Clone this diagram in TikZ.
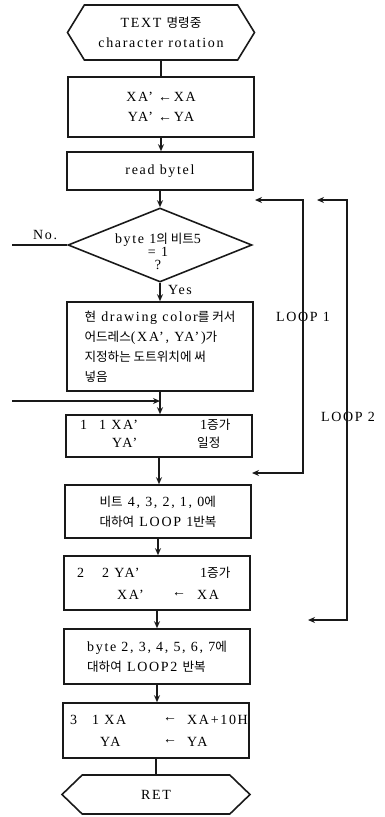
\documentclass[tikz,border=0pt]{standalone}
\usepackage{fontspec}
\setmainfont{Liberation Serif}[LetterSpace=12]
\newfontfamily\kr{Noto Sans CJK KR}[Scale=0.9]
\usepackage{tikz}
\usetikzlibrary{shapes.geometric, shapes.symbols, arrows.meta, positioning, calc}
\definecolor{ink}{RGB}{25,25,25}
\newcommand{\boxfont}{\fontsize{14}{20}\selectfont}
\tikzset{
  block/.style={rectangle, draw=ink, minimum width=186pt, inner sep=0pt,
    line width=1.6pt, font=\boxfont},
  terminal/.style={signal, signal to=west and east, draw=ink, inner sep=0pt,
    line width=1.6pt, font=\boxfont},
  decision/.style={diamond, draw=ink, minimum width=184pt, minimum height=74pt,
    inner sep=0pt, line width=1.6pt},
  txt/.style={inner sep=0pt, font=\boxfont},
  arrow/.style={-{Stealth[length=7pt,width=6pt]}, line width=1.6pt, draw=ink},
  looparrow/.style={{Stealth[length=7pt,width=6pt]}-{Stealth[length=7pt,width=6pt]},
    line width=1.6pt, draw=ink},
  line/.style={line width=1.6pt, draw=ink}
}
\begin{document}
\begin{tikzpicture}[x=1pt, y=-1pt]
  \useasboundingbox (0,0) rectangle (385,817);
  % main column
  \node[terminal, minimum width=187pt, minimum height=55pt, signal pointer angle=117,
    align=center] (start) at (161,32.5) {TEXT {\kr 명령중}\\character rotation};
  \node[block, minimum height=60pt, align=center] (init) at (161,107)
    {XA' ←XA\\YA' ←YA};
  \node[block, minimum height=38pt] (rd) at (160,171) {read bytel};
  \node[decision] (chk) at (160,245) {};
  \node[txt, align=center, font=\fontsize{14}{13}\selectfont] (chktxt) at (158,251)
    {byte 1{\kr 의 비트}5\\= 1\\?};
  \node[block, minimum height=89pt, align=left] (plot) at (160,346.5)
    {{\kr 현} drawing color{\kr 를 커서}\\{\kr 어드레스}(XA', YA'){\kr 가}\\
     {\kr 지정하는 도트위치에 써}\\{\kr 넣음}};
  \node[block, minimum height=42pt] (incx) at (159,436) {};
  \node[block, minimum height=53pt, align=left] (rep1) at (158,511.5)
    {{\kr 비트} 4, 3, 2, 1, 0{\kr 에}\\{\kr 대하여} LOOP 1{\kr 반복}};
  \node[block, minimum height=54pt] (incy) at (157,583) {};
  \node[block, minimum height=55pt, align=left] (rep2) at (157,656.5)
    {byte 2, 3, 4, 5, 6, 7{\kr 에}\\{\kr 대하여} LOOP2 {\kr 반복}};
  \node[block, minimum height=55pt] (next) at (156,730.5) {};
  \node[terminal, minimum width=188pt, minimum height=39pt, signal pointer angle=88]
    (ret) at (156,794.5) {RET};
  % texts set in columns
  \node[txt, anchor=west] (t4a) at (80,425) {1};
  \node[txt, anchor=west] (t4b) at (99,425) {1 XA'};
  \node[txt, anchor=west] (t4c) at (200,425) {1{\kr 증가}};
  \node[txt, anchor=west] (t4d) at (112,443) {YA'};
  \node[txt, anchor=west] (t4e) at (197,443) {\kr 일정};
  \node[txt, anchor=west] (t6a) at (77,573) {2};
  \node[txt, anchor=west] (t6b) at (102,573) {2 YA'};
  \node[txt, anchor=west] (t6c) at (200,573) {1{\kr 증가}};
  \node[txt, anchor=west] (t6d) at (117,595) {XA'};
  \node[txt, anchor=west] (t6e) at (172,595) {←};
  \node[txt, anchor=west] (t6f) at (197,595) {XA};
  \node[txt, anchor=west] (t8a) at (70,720) {3};
  \node[txt, anchor=west] (t8b) at (92,720) {1 XA};
  \node[txt, anchor=west] (t8c) at (163,720) {←};
  \node[txt, anchor=west] (t8d) at (187,720) {XA+10H};
  \node[txt, anchor=west] (t8e) at (100,742) {YA};
  \node[txt, anchor=west] (t8f) at (163,742) {←};
  \node[txt, anchor=west] (t8g) at (187,742) {YA};
  % branch labels
  \node[txt, anchor=west] (yes) at (168,290) {Yes};
  \node[txt, anchor=west] (no) at (33,235) {No.};
  \node[txt] (loopa) at (303,317) {LOOP 1};
  \node[txt] (loopb) at (348,417) {LOOP 2};
  % connectors
  \draw[line] (start) -- (start |- init.north);
  \draw[arrow] (init) -- (init |- rd.north);
  \draw[arrow] (rd) -- (rd |- chk.north);
  \draw[arrow] (chk) -- (chk |- plot.north);
  \draw[arrow] (plot) -- (plot |- incx.north);
  \draw[arrow] (incx) -- (incx |- rep1.north);
  \draw[arrow] (rep1) -- (rep1 |- incy.north);
  \draw[arrow] (incy) -- (incy |- rep2.north);
  \draw[arrow] (rep2) -- (rep2 |- next.north);
  \draw[line] (next) -- (next |- ret.north);
  \coordinate (noend) at (12,245);
  \draw[line] (noend) -- (chk.west);
  \coordinate (inend) at (12,401);
  \draw[arrow] (inend) -- (inend -| plot.south);
  % loop returns
  \coordinate (l1top) at (255,200);
  \coordinate (l1bot) at (252,473);
  \draw[looparrow] (l1top) -- ++(48,0) |- (l1bot);
  \coordinate (l2top) at (317,200);
  \coordinate (l2bot) at (308,620);
  \draw[looparrow] (l2top) -- ++(30,0) |- (l2bot);
\end{tikzpicture}
\end{document}
